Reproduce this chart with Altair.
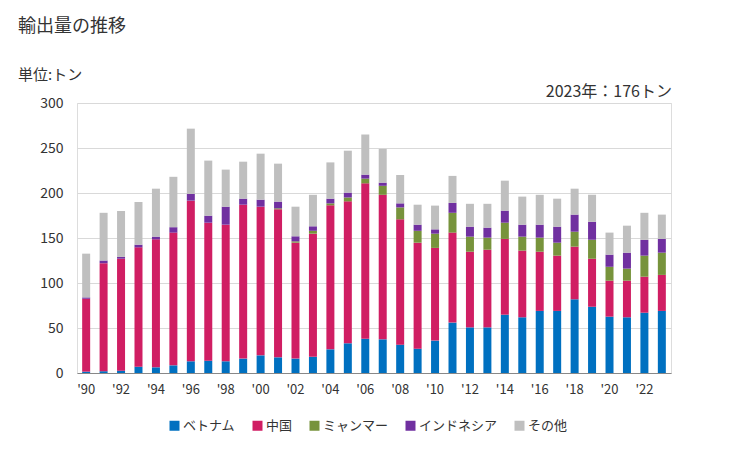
import altair as alt
import pandas as pd

years = list(range(1990, 2024))
vietnam = [1.5, 2, 2.6, 7, 6.3, 8.5, 13, 13.7, 13, 16, 19.6, 17.4, 16, 18, 26.3, 33, 38, 37.4,
           31.5, 27, 36, 56, 50.7, 50.7, 64.8, 61.9, 69, 69, 81.9, 73.7, 62.6, 61.9, 67, 69]
china = [81, 120, 124.4, 132.6, 142.2, 147.5, 178.5, 153.3, 151.8, 171, 165.2, 164.5, 128.8, 136.8,
         160, 157.7, 172.7, 160.6, 139.2, 117.8, 103, 100, 84.1, 86.3, 84.2, 74.1, 65.8, 61.4,
         58.5, 53.3, 40, 40.7, 40, 40]
myanmar = [0, 0, 0, 0, 0, 0, 0, 0, 0, 0, 0, 1.1, 1.5, 3.2, 2.2, 4.3, 5.3, 10, 13.3, 13.2, 15.8, 22,
           16.7, 13.4, 18, 15.5, 15.6, 14.4, 16.6, 21, 15.4, 13.4, 23.4, 24.7]
indonesia = [1.5, 3, 2, 3, 3, 6, 7.5, 7.8, 20, 6.7, 7.8, 7.4, 5.6, 5, 5.2, 5.4, 4.4, 3.5, 4.5, 6.8,
             4.8, 11, 11.1, 11.1, 13.4, 13.3, 14.4, 17.8, 19, 20, 13.5, 17.7, 17.6, 15.3]
others = [48.6, 53, 51, 47.4, 53.3, 56, 72.5, 61.2, 41.2, 41.1, 51.1, 42.2, 32.9, 35, 40.3, 46.6,
          44.6, 37.5, 31.5, 22.2, 26.4, 30, 25.4, 26.5, 33.3, 31.2, 33.2, 31.1, 28.8, 30, 24.5,
          30, 30, 27]

series_names = ["ベトナム", "中国", "ミャンマー", "インドネシア", "その他"]
series_vals = [vietnam, china, myanmar, indonesia, others]
colors = ["#0070C0", "#D01E63", "#77933C", "#7030A0", "#BFBFBF"]

rows = []
for i, (name, vals) in enumerate(zip(series_names, series_vals)):
    for y, v in zip(years, vals):
        rows.append({"year": y, "country": name, "value": v, "ord": i})
df = pd.DataFrame(rows)

FONT = "Noto Sans CJK JP"

bars = alt.Chart(df).mark_bar(size=8).encode(
    x=alt.X("year:O", title=None,
            scale=alt.Scale(paddingInner=0.55, paddingOuter=0.3),
            axis=alt.Axis(labelAngle=0, ticks=False, domainColor="#888888",
                          labelExpr="datum.value % 2 == 0 ? \"'\" + substring('' + datum.value, 2, 4) : ''",
                          labelFontSize=13, labelColor="#333333", labelPadding=10,
                          labelFont=FONT)),
    y=alt.Y("value:Q", title=None, stack="zero",
            scale=alt.Scale(domain=[0, 300]),
            axis=alt.Axis(values=[0, 50, 100, 150, 200, 250, 300], ticks=False, domain=False,
                          gridColor="#D9D9D9", labelFontSize=14, labelColor="#333333",
                          labelPadding=14, labelFont=FONT)),
    color=alt.Color("country:N", title=None,
                    scale=alt.Scale(domain=series_names, range=colors),
                    legend=alt.Legend(orient="none", direction="horizontal", legendX=91, legendY=316,
                                      symbolType="square", symbolSize=100, symbolStrokeWidth=0,
                                      labelFontSize=13, labelFont=FONT, labelColor="#333333",
                                      columnPadding=15, padding=0, labelOffset=2)),
    order=alt.Order("ord:Q", sort="ascending"),
)

title = alt.Chart(pd.DataFrame({"t": ["輸出量の推移"]})).mark_text(
    align="left", baseline="middle", fontSize=18, font=FONT, color="#333333"
).encode(x=alt.value(-59), y=alt.value(-76), text="t:N")

unit = alt.Chart(pd.DataFrame({"t": ["単位:トン"]})).mark_text(
    align="left", baseline="middle", fontSize=15, font=FONT, color="#333333"
).encode(x=alt.value(-59), y=alt.value(-28), text="t:N")

note = alt.Chart(pd.DataFrame({"t": ["2023年：176トン"]})).mark_text(
    align="right", baseline="middle", fontSize=16, font=FONT, color="#333333"
).encode(x=alt.value(595), y=alt.value(-11), text="t:N")

chart = alt.layer(bars, title, unit, note).properties(
    width=594, height=270,
    autosize=alt.AutoSizeParams(type="none"),
    padding={"left": 69, "top": 95, "right": 50, "bottom": 70},
).configure_view(stroke=None).configure(font=FONT)

chart.save("out.html", embed_options={"renderer": "svg", "actions": False})
